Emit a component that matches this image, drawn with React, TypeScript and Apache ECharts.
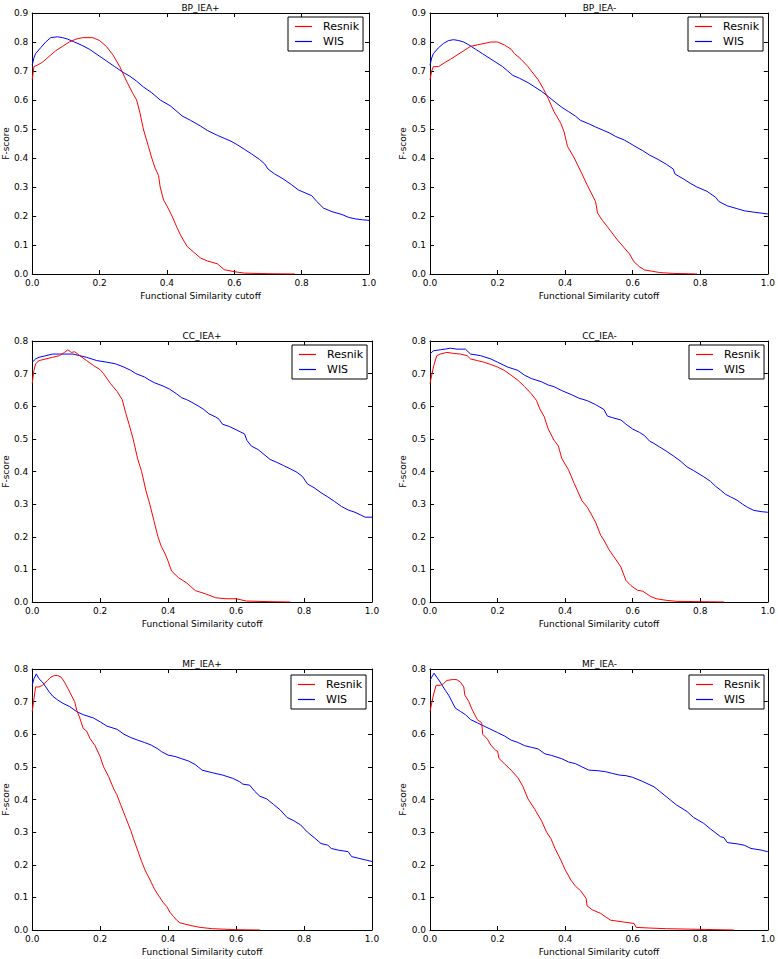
import React, { useEffect, useRef } from 'react';
import * as echarts from 'echarts';

// ---------- data ----------
const panelTitles = ['BP_IEA+', 'BP_IEA-', 'CC_IEA+', 'CC_IEA-', 'MF_IEA+', 'MF_IEA-'];
const panelYMax = [0.9, 0.9, 0.8, 0.8, 0.8, 0.8];
const seriesNames = ['Resnik', 'WIS'];
const xAxisName = 'Functional Similarity cutoff';
const yAxisName = 'F-score';

const bpPlusResnik = [[0,0.67],[0.005,0.715],[0.015,0.72],[0.03,0.73],[0.05,0.75],[0.07,0.77],[0.09,0.785],[0.11,0.80],[0.13,0.81],[0.15,0.815],[0.18,0.815],[0.20,0.805],[0.22,0.785],[0.24,0.755],[0.26,0.715],[0.28,0.665],[0.30,0.62],[0.31,0.60],[0.32,0.555],[0.33,0.50],[0.345,0.44],[0.355,0.40],[0.365,0.365],[0.375,0.34],[0.38,0.30],[0.39,0.255],[0.40,0.235],[0.415,0.20],[0.43,0.16],[0.44,0.135],[0.46,0.095],[0.48,0.075],[0.50,0.055],[0.52,0.045],[0.55,0.035],[0.57,0.015],[0.60,0.008],[0.63,0.003],[0.70,0.001],[0.78,0]];
const bpPlusWIS = [[0,0.72],[0.005,0.745],[0.01,0.76],[0.025,0.78],[0.04,0.80],[0.055,0.815],[0.075,0.818],[0.09,0.815],[0.105,0.81],[0.125,0.80],[0.145,0.79],[0.17,0.775],[0.195,0.755],[0.22,0.735],[0.245,0.715],[0.27,0.695],[0.29,0.682],[0.31,0.665],[0.33,0.645],[0.355,0.625],[0.38,0.60],[0.41,0.58],[0.43,0.56],[0.445,0.545],[0.47,0.53],[0.50,0.51],[0.52,0.495],[0.55,0.478],[0.57,0.468],[0.59,0.458],[0.61,0.445],[0.63,0.43],[0.65,0.415],[0.675,0.395],[0.69,0.38],[0.70,0.362],[0.72,0.345],[0.745,0.328],[0.77,0.308],[0.79,0.29],[0.81,0.28],[0.83,0.27],[0.845,0.25],[0.865,0.227],[0.89,0.215],[0.92,0.205],[0.94,0.195],[0.96,0.19],[0.98,0.187],[1.0,0.185]];

const bpMinusResnik = [[0,0.67],[0.005,0.70],[0.01,0.715],[0.025,0.715],[0.045,0.73],[0.06,0.74],[0.08,0.755],[0.10,0.77],[0.12,0.785],[0.14,0.79],[0.16,0.795],[0.18,0.80],[0.20,0.80],[0.22,0.79],[0.24,0.775],[0.25,0.76],[0.27,0.74],[0.29,0.715],[0.30,0.70],[0.32,0.67],[0.335,0.64],[0.35,0.605],[0.367,0.56],[0.387,0.52],[0.397,0.49],[0.407,0.44],[0.427,0.40],[0.45,0.345],[0.466,0.305],[0.49,0.25],[0.496,0.21],[0.51,0.185],[0.525,0.163],[0.555,0.117],[0.575,0.09],[0.59,0.07],[0.604,0.042],[0.62,0.025],[0.635,0.014],[0.655,0.01],[0.68,0.005],[0.72,0.002],[0.79,0]];
const bpMinusWIS = [[0,0.72],[0.005,0.745],[0.01,0.76],[0.025,0.78],[0.04,0.795],[0.055,0.805],[0.07,0.808],[0.085,0.805],[0.10,0.80],[0.115,0.79],[0.135,0.775],[0.155,0.76],[0.175,0.745],[0.195,0.73],[0.215,0.715],[0.23,0.70],[0.245,0.685],[0.265,0.675],[0.29,0.66],[0.31,0.645],[0.33,0.63],[0.35,0.612],[0.37,0.593],[0.39,0.575],[0.41,0.56],[0.43,0.545],[0.445,0.53],[0.47,0.518],[0.49,0.507],[0.51,0.497],[0.53,0.487],[0.55,0.474],[0.575,0.462],[0.59,0.452],[0.61,0.438],[0.63,0.425],[0.65,0.41],[0.675,0.395],[0.70,0.378],[0.72,0.362],[0.725,0.345],[0.735,0.338],[0.75,0.328],[0.77,0.313],[0.79,0.30],[0.82,0.285],[0.845,0.265],[0.855,0.25],[0.88,0.235],[0.91,0.225],[0.93,0.218],[0.96,0.213],[0.98,0.21],[1.0,0.207]];

const ccPlusResnik = [[0,0.67],[0.005,0.71],[0.01,0.73],[0.02,0.74],[0.04,0.745],[0.06,0.75],[0.08,0.755],[0.095,0.765],[0.105,0.773],[0.115,0.765],[0.125,0.767],[0.14,0.755],[0.16,0.74],[0.18,0.725],[0.20,0.712],[0.21,0.70],[0.23,0.67],[0.25,0.645],[0.265,0.62],[0.275,0.58],[0.285,0.545],[0.297,0.50],[0.31,0.44],[0.322,0.40],[0.335,0.34],[0.346,0.30],[0.358,0.25],[0.37,0.20],[0.38,0.17],[0.39,0.15],[0.40,0.125],[0.41,0.095],[0.43,0.075],[0.455,0.058],[0.48,0.035],[0.51,0.025],[0.54,0.013],[0.57,0.01],[0.60,0.01],[0.63,0.003],[0.70,0.001],[0.76,0]];
const ccPlusWIS = [[0,0.735],[0.01,0.745],[0.02,0.75],[0.04,0.755],[0.06,0.76],[0.08,0.76],[0.12,0.76],[0.14,0.755],[0.16,0.75],[0.19,0.74],[0.22,0.735],[0.245,0.73],[0.27,0.72],[0.29,0.71],[0.305,0.70],[0.33,0.69],[0.345,0.68],[0.36,0.672],[0.385,0.662],[0.405,0.652],[0.425,0.638],[0.44,0.626],[0.455,0.62],[0.47,0.612],[0.49,0.60],[0.505,0.59],[0.52,0.577],[0.54,0.567],[0.55,0.56],[0.56,0.545],[0.58,0.538],[0.60,0.528],[0.625,0.515],[0.632,0.495],[0.645,0.478],[0.665,0.467],[0.685,0.45],[0.70,0.437],[0.72,0.428],[0.74,0.418],[0.76,0.408],[0.78,0.397],[0.795,0.385],[0.81,0.362],[0.83,0.35],[0.85,0.335],[0.87,0.322],[0.89,0.308],[0.91,0.293],[0.93,0.282],[0.95,0.275],[0.97,0.265],[0.98,0.26],[1.0,0.26]];

const ccMinusResnik = [[0,0.67],[0.01,0.72],[0.02,0.755],[0.03,0.76],[0.05,0.765],[0.07,0.762],[0.09,0.76],[0.11,0.755],[0.12,0.745],[0.14,0.74],[0.16,0.735],[0.18,0.728],[0.20,0.72],[0.22,0.71],[0.24,0.695],[0.26,0.68],[0.28,0.66],[0.30,0.638],[0.315,0.618],[0.325,0.592],[0.338,0.568],[0.35,0.53],[0.367,0.496],[0.38,0.478],[0.39,0.44],[0.41,0.405],[0.427,0.363],[0.45,0.31],[0.466,0.29],[0.49,0.245],[0.505,0.205],[0.515,0.189],[0.53,0.16],[0.545,0.138],[0.565,0.107],[0.58,0.066],[0.595,0.05],[0.614,0.036],[0.63,0.033],[0.653,0.017],[0.67,0.01],[0.70,0.005],[0.73,0.002],[0.80,0.001],[0.87,0]];
const ccMinusWIS = [[0,0.76],[0.01,0.77],[0.03,0.773],[0.05,0.776],[0.06,0.778],[0.08,0.775],[0.105,0.775],[0.12,0.76],[0.15,0.755],[0.18,0.745],[0.20,0.735],[0.23,0.72],[0.26,0.71],[0.28,0.695],[0.30,0.685],[0.33,0.675],[0.35,0.665],[0.367,0.66],[0.39,0.648],[0.42,0.635],[0.44,0.625],[0.466,0.617],[0.49,0.605],[0.515,0.59],[0.525,0.57],[0.54,0.565],[0.565,0.558],[0.58,0.545],[0.60,0.53],[0.62,0.52],[0.635,0.51],[0.65,0.493],[0.663,0.486],[0.68,0.475],[0.70,0.462],[0.72,0.448],[0.74,0.433],[0.761,0.414],[0.78,0.403],[0.81,0.384],[0.83,0.37],[0.845,0.355],[0.86,0.343],[0.875,0.33],[0.89,0.322],[0.909,0.312],[0.925,0.30],[0.94,0.29],[0.958,0.281],[0.98,0.277],[1.0,0.275]];

const mfPlusResnik = [[0,0.67],[0.01,0.745],[0.02,0.745],[0.03,0.75],[0.045,0.765],[0.055,0.775],[0.065,0.78],[0.075,0.78],[0.085,0.775],[0.095,0.76],[0.105,0.74],[0.115,0.72],[0.125,0.70],[0.131,0.674],[0.14,0.65],[0.15,0.618],[0.16,0.61],[0.17,0.587],[0.185,0.565],[0.20,0.531],[0.21,0.50],[0.225,0.47],[0.24,0.432],[0.249,0.415],[0.26,0.385],[0.275,0.345],[0.29,0.305],[0.298,0.28],[0.31,0.245],[0.322,0.21],[0.332,0.184],[0.347,0.153],[0.36,0.125],[0.371,0.107],[0.385,0.085],[0.396,0.072],[0.405,0.055],[0.416,0.041],[0.425,0.03],[0.435,0.022],[0.45,0.018],[0.47,0.013],[0.494,0.008],[0.53,0.004],[0.60,0.001],[0.67,0]];
const mfPlusWIS = [[0,0.75],[0.005,0.77],[0.012,0.785],[0.02,0.77],[0.03,0.76],[0.04,0.745],[0.05,0.73],[0.06,0.717],[0.075,0.705],[0.09,0.695],[0.11,0.685],[0.13,0.67],[0.15,0.66],[0.18,0.65],[0.20,0.638],[0.22,0.625],[0.25,0.615],[0.27,0.60],[0.29,0.59],[0.31,0.582],[0.33,0.575],[0.35,0.567],[0.37,0.555],[0.38,0.547],[0.40,0.536],[0.42,0.532],[0.44,0.525],[0.46,0.518],[0.48,0.507],[0.50,0.49],[0.53,0.482],[0.56,0.475],[0.59,0.465],[0.61,0.455],[0.62,0.447],[0.64,0.444],[0.655,0.425],[0.67,0.41],[0.69,0.402],[0.71,0.385],[0.73,0.368],[0.75,0.345],[0.77,0.335],[0.79,0.322],[0.81,0.30],[0.83,0.283],[0.85,0.265],[0.87,0.26],[0.88,0.25],[0.90,0.245],[0.93,0.24],[0.94,0.225],[0.96,0.22],[0.98,0.215],[1.0,0.21]];

const mfMinusResnik = [[0,0.67],[0.01,0.72],[0.018,0.75],[0.03,0.75],[0.04,0.755],[0.05,0.765],[0.07,0.768],[0.08,0.767],[0.09,0.76],[0.10,0.745],[0.103,0.72],[0.115,0.70],[0.125,0.675],[0.14,0.645],[0.153,0.635],[0.156,0.60],[0.17,0.585],[0.18,0.567],[0.195,0.55],[0.20,0.548],[0.204,0.526],[0.22,0.51],[0.24,0.49],[0.26,0.467],[0.275,0.44],[0.29,0.402],[0.31,0.37],[0.33,0.335],[0.345,0.30],[0.358,0.28],[0.37,0.25],[0.387,0.215],[0.40,0.185],[0.417,0.153],[0.43,0.135],[0.446,0.12],[0.462,0.097],[0.465,0.074],[0.48,0.062],[0.505,0.051],[0.52,0.04],[0.535,0.03],[0.57,0.025],[0.604,0.02],[0.61,0.008],[0.65,0.006],[0.70,0.004],[0.80,0.002],[0.90,0]];
const mfMinusWIS = [[0,0.765],[0.005,0.775],[0.012,0.787],[0.02,0.775],[0.03,0.76],[0.045,0.735],[0.055,0.72],[0.065,0.70],[0.075,0.68],[0.09,0.67],[0.105,0.66],[0.12,0.645],[0.14,0.635],[0.16,0.625],[0.18,0.615],[0.20,0.605],[0.22,0.595],[0.24,0.582],[0.26,0.575],[0.28,0.565],[0.30,0.56],[0.32,0.555],[0.34,0.54],[0.36,0.535],[0.39,0.525],[0.41,0.515],[0.43,0.51],[0.45,0.50],[0.47,0.49],[0.50,0.488],[0.52,0.485],[0.54,0.48],[0.56,0.475],[0.58,0.473],[0.60,0.468],[0.63,0.455],[0.663,0.439],[0.68,0.425],[0.712,0.398],[0.73,0.383],[0.761,0.363],[0.78,0.345],[0.81,0.327],[0.83,0.31],[0.86,0.286],[0.87,0.283],[0.88,0.268],[0.909,0.264],[0.93,0.26],[0.95,0.25],[0.98,0.245],[1.0,0.24]];

const panelData = [
  [bpPlusResnik, bpPlusWIS],
  [bpMinusResnik, bpMinusWIS],
  [ccPlusResnik, ccPlusWIS],
  [ccMinusResnik, ccMinusWIS],
  [mfPlusResnik, mfPlusWIS],
  [mfMinusResnik, mfMinusWIS],
];

// ---------- layout / style ----------
const FONT = '"DejaVu Sans", sans-serif';
const COLORS = ['#ff0000', '#0000ff'];
const layout = [
  { left: 32, top: 13, width: 337, height: 261, lgLeft: 288, lgTop: 17, yGap: 22 },
  { left: 430, top: 13, width: 339, height: 261, lgLeft: 688, lgTop: 17, yGap: 21 },
  { left: 32, top: 341, width: 340, height: 261, lgLeft: 292, lgTop: 345, yGap: 22 },
  { left: 430, top: 341, width: 339, height: 261, lgLeft: 689, lgTop: 345, yGap: 21 },
  { left: 32, top: 669, width: 340, height: 261, lgLeft: 291, lgTop: 675, yGap: 22 },
  { left: 430, top: 669, width: 339, height: 261, lgLeft: 689, lgTop: 675, yGap: 21 },
];

function buildOption() {
  const grid: any[] = [];
  const xAxis: any[] = [];
  const yAxis: any[] = [];
  const series: any[] = [];
  const legend: any[] = [];
  const graphic: any[] = [];
  const fmt = (v: number) => v.toFixed(1);
  const axisLine = { show: true, onZero: false, lineStyle: { color: '#000', width: 1 } };
  const axisTick = { show: true, inside: true, length: 4, lineStyle: { color: '#000', width: 1 } };
  const labelStyle = { color: '#000', fontSize: 9, fontFamily: FONT };

  layout.forEach((p, i) => {
    grid.push({ left: p.left, top: p.top, width: p.width, height: p.height, show: false });
    const xBase = { type: 'value', gridIndex: i, min: 0, max: 1, interval: 0.2, splitLine: { show: false }, axisLine, axisTick };
    const yBase = { type: 'value', gridIndex: i, min: 0, max: panelYMax[i], interval: 0.1, splitLine: { show: false }, axisLine, axisTick };
    xAxis.push({
      ...xBase, position: 'bottom',
      name: xAxisName, nameLocation: 'middle', nameGap: 17,
      nameTextStyle: { ...labelStyle },
      axisLabel: { ...labelStyle, margin: 4, formatter: fmt },
    });
    xAxis.push({ ...xBase, position: 'top', axisLabel: { show: false } });
    yAxis.push({
      ...yBase, position: 'left',
      name: yAxisName, nameLocation: 'middle', nameGap: p.yGap,
      nameTextStyle: { ...labelStyle },
      axisLabel: { ...labelStyle, margin: 4, formatter: fmt },
    });
    yAxis.push({ ...yBase, position: 'right', axisLabel: { show: false } });

    seriesNames.forEach((name, s) => {
      series.push({
        type: 'line', name, xAxisIndex: 2 * i, yAxisIndex: 2 * i,
        data: panelData[i][s], symbol: 'none', showSymbol: false,
        lineStyle: { color: COLORS[s], width: 1 }, itemStyle: { color: COLORS[s] },
        z: s === 0 ? 3 : 2,
      });
    });

    legend.push({
      data: seriesNames.map((name, s) => ({ name, icon: 'rect', itemStyle: { color: COLORS[s], borderWidth: 0 } })),
      orient: 'vertical', left: p.lgLeft, top: p.lgTop,
      padding: [4, 4, 4, 7], itemWidth: 17, itemHeight: 1.2, itemGap: 4,
      borderColor: '#000', borderWidth: 1, borderRadius: 0, backgroundColor: '#fff',
      selectedMode: false,
      textStyle: { color: '#000', fontSize: 11, fontFamily: FONT, padding: [0, 0, 0, 6] },
    });

    graphic.push({
      type: 'text', x: p.left + p.width / 2, y: p.top - 1,
      style: {
        text: panelTitles[i], fill: '#000', font: `9px ${FONT}`,
        textAlign: 'center', textVerticalAlign: 'bottom', align: 'center', verticalAlign: 'bottom',
      },
    });
  });

  return { animation: false, backgroundColor: '#fff', grid, xAxis, yAxis, series, legend, graphic };
}

export default function App() {
  const ref = useRef<HTMLDivElement>(null);
  useEffect(() => {
    if (!ref.current) return;
    const chart = echarts.init(ref.current, undefined, { renderer: 'svg' });
    chart.setOption(buildOption() as any);
    return () => chart.dispose();
  }, []);
  return (
    <div
      ref={ref}
      style={{ position: 'absolute', left: 0, top: 0, width: 778, height: 959, background: '#fff' }}
    />
  );
}
